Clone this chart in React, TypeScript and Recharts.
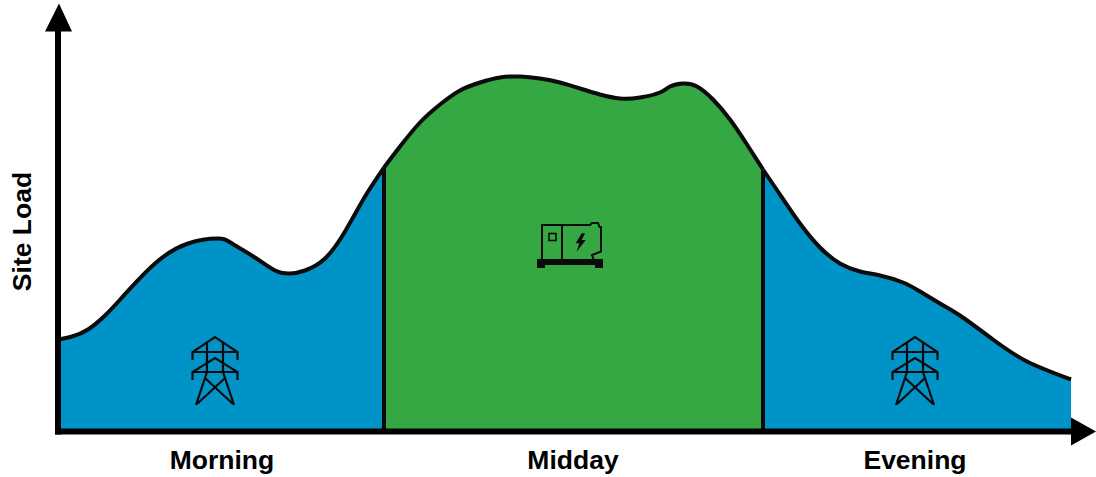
import React from 'react';
import { ComposedChart, Area, XAxis, YAxis, ReferenceLine, ReferenceDot } from 'recharts';

// time runs 0-1013, load runs 0-400 (no real units on the source picture)
const timeValues = [
  0, 14, 30, 47, 64, 97, 130, 160, 174, 197, 217, 232, 247, 267, 287, 307, 326,
  342, 362, 382, 402, 422, 442, 462, 482, 502, 522, 542, 562, 582, 602, 612, 625, 639, 655, 672, 689, 705,
  722, 742, 762, 782, 802, 822, 845, 862, 882, 902, 935, 969, 1013,
];
const loadValues = [
  92, 95, 102, 116, 134, 168, 188, 193, 188, 174, 161, 158, 161, 173, 200, 235, 264,
  285, 309, 327, 341, 349, 354, 355, 353, 349, 343, 337, 333, 334, 339, 345, 348, 345, 332, 312, 287, 262,
  237, 208, 184, 168, 160, 156, 149, 140, 128, 116, 92, 70, 52,
];

const categories = ['Morning', 'Midday', 'Evening'];
const categoryTicks = [164, 515, 857];
const middayStart = 326;
const middayEnd = 705;
const middayStartLoad = 264;
const middayEndLoad = 262;

const rows = timeValues.map((t, i) => ({
  t,
  morning: t <= middayStart ? loadValues[i] : null,
  midday: t >= middayStart && t <= middayEnd ? loadValues[i] : null,
  evening: t >= middayEnd ? loadValues[i] : null,
}));

const BLUE = '#0093c8';
const GREEN = '#35a743';

const ArrowRight = ({ cx, cy }: any) => (
  <polygon points={`${cx},${cy - 14} ${cx + 25},${cy} ${cx},${cy + 14}`} fill="#000" />
);

const ArrowUp = ({ cx, cy }: any) => (
  <polygon points={`${cx - 13},${cy} ${cx + 1},${cy - 28} ${cx + 14},${cy}`} fill="#000" />
);

const Tower = ({ cx, cy }: any) => (
  <g transform={`translate(${cx},${cy})`} fill="none" stroke="#0b0b0b" strokeWidth={2.2}>
    <path d="M-22.5,-12 V-20 L0,-35 L22.5,-20 V-12 M-22.5,-20 H22.5" />
    <path d="M-22.5,8 V0 L0,-14 L22.5,0 V8 M-22.5,0 H22.5" />
    <path d="M-8,-29 V0 M8,-29 V0" />
    <path d="M-8,0 L-19,33 M8,0 L19,33 M-10,6 L18,32 M10,6 L-18,32" />
  </g>
);

const Generator = ({ cx, cy }: any) => (
  <g transform={`translate(${cx},${cy})`}>
    <path
      d="M-28,14 V-20 H20 L22,-22 H28 L29.5,-18 H31 V6.5 L22,10 L23.5,14 M-8,-20 V14"
      fill="none"
      stroke="#0b0b0b"
      strokeWidth={2}
    />
    <rect x={-21} y={-11.5} width={7} height={7} fill="none" stroke="#0b0b0b" strokeWidth={1.6} />
    <polygon points="11.7,-11.7 5.7,-1.7 9.3,-1.7 6.7,6.7 15.7,-5 11.7,-5 15,-11.7" fill="#0b0b0b" />
    <path d="M-33,14 H33 V23 H25 V20 H-25 V23 H-33 Z" fill="#0b0b0b" />
  </g>
);

const tickStyle = { fill: '#000', fontSize: 26.5, fontWeight: 700, fontFamily: 'Liberation Sans' };

export default function App() {
  return (
    <div style={{ position: 'absolute', left: 0, top: 0 }}>
      <ComposedChart
        width={1096}
        height={477}
        data={rows}
        margin={{ top: 31.5, right: 25, bottom: 0, left: 0 }}
      >
        <XAxis
          dataKey="t"
          type="number"
          domain={[0, 1013]}
          ticks={categoryTicks}
          tickFormatter={(v: number) => categories[categoryTicks.indexOf(v)]}
          interval={0}
          height={45.5}
          tickLine={false}
          axisLine={{ stroke: '#000', strokeWidth: 6, strokeLinecap: 'square' }}
          tick={tickStyle}
          tickMargin={13}
        />
        <YAxis
          type="number"
          domain={[0, 400]}
          width={58}
          tick={false}
          tickLine={false}
          axisLine={{ stroke: '#000', strokeWidth: 6, strokeLinecap: 'square' }}
          label={{
            value: 'Site Load',
            angle: -90,
            position: 'insideLeft',
            dx: 17,
            dy: 0,
            style: { ...tickStyle, textAnchor: 'middle' },
          }}
        />
        <Area dataKey="morning" type="natural" fill={BLUE} fillOpacity={1} stroke="#0b0b0b" strokeWidth={4} isAnimationActive={false} connectNulls={false} />
        <Area dataKey="midday" type="natural" fill={GREEN} fillOpacity={1} stroke="#0b0b0b" strokeWidth={4} isAnimationActive={false} connectNulls={false} />
        <Area dataKey="evening" type="natural" fill={BLUE} fillOpacity={1} stroke="#0b0b0b" strokeWidth={4} isAnimationActive={false} connectNulls={false} />
        <ReferenceLine segment={[{ x: middayStart, y: 0 }, { x: middayStart, y: middayStartLoad }]} stroke="#0b0b0b" strokeWidth={4} />
        <ReferenceLine segment={[{ x: middayEnd, y: 0 }, { x: middayEnd, y: middayEndLoad }]} stroke="#0b0b0b" strokeWidth={4} />
        <ReferenceDot x={157} y={59.5} shape={Tower} ifOverflow="visible" />
        <ReferenceDot x={857} y={59.5} shape={Tower} ifOverflow="visible" />
        <ReferenceDot x={512} y={186.5} shape={Generator} ifOverflow="visible" />
        <ReferenceDot x={1013} y={0} shape={ArrowRight} ifOverflow="visible" />
        <ReferenceDot x={0} y={400} shape={ArrowUp} ifOverflow="visible" />
      </ComposedChart>
    </div>
  );
}
